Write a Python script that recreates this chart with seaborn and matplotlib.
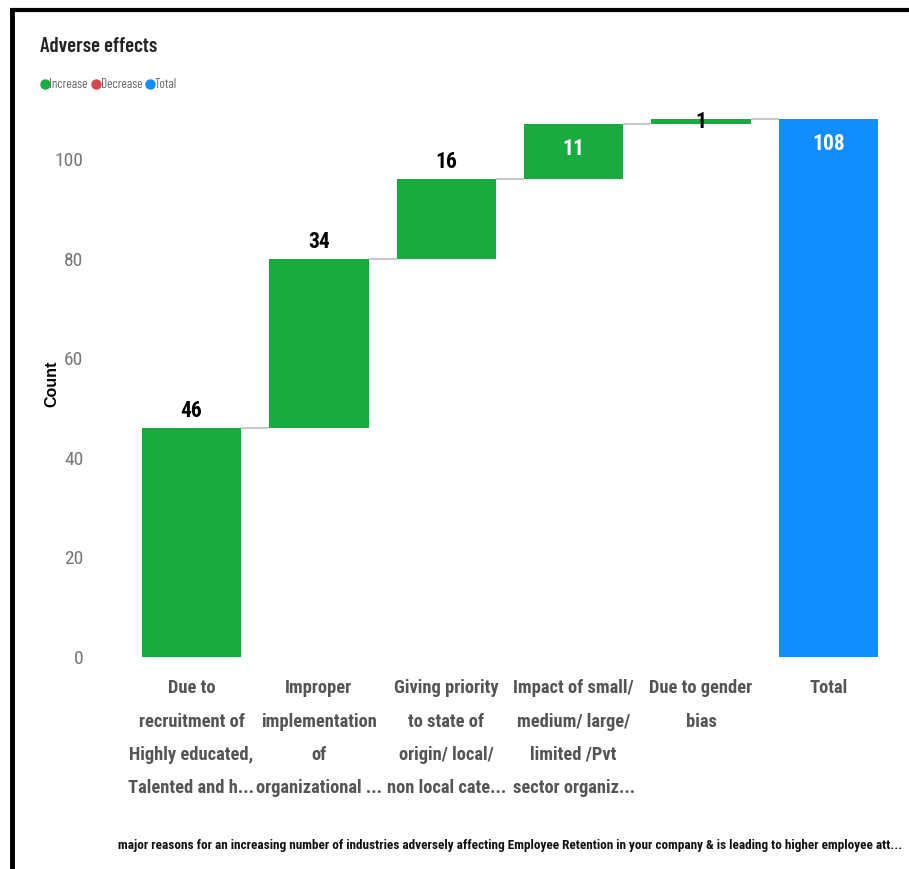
import numpy as np
import pandas as pd
import matplotlib
matplotlib.use("Agg")
import matplotlib.pyplot as plt
from matplotlib.lines import Line2D
import seaborn as sns

# ---- data ----
categories = [
    "Due to\nrecruitment of\nHighly educated,\nTalented and h...",
    "Improper\nimplementation\nof\norganizational ...",
    "Giving priority\nto state of\norigin/ local/\nnon local cate...",
    "Impact of small/\nmedium/ large/\nlimited /Pvt\nsector organiz...",
    "Due to gender\nbias",
    "Total",
]
changes = [46, 34, 16, 11, 1]
total = 108
kinds = ["Increase", "Increase", "Increase", "Increase", "Increase", "Total"]
y_ticks = [0, 20, 40, 60, 80, 100]
legend_names = ["Increase", "Decrease", "Total"]
caption = ("major reasons for an increasing number of industries adversely affecting "
           "Employee Retention in your company & is leading to higher employee att...")

# ---- waterfall geometry from the data ----
ends = np.cumsum(changes)
starts = np.concatenate([[0], ends[:-1]])
heights = list(changes) + [total]
bottoms = list(starts) + [0]
df = pd.DataFrame({"category": categories, "height": heights, "kind": kinds})

colors = {"Increase": "#1AAB40", "Decrease": "#D64550", "Total": "#118DFF"}

sns.set_theme(style="white")
COND = ["Roboto Condensed", "DejaVu Sans"]
DIN_NARROW = ["Barlow Condensed", "DejaVu Sans"]
plt.rcParams["font.family"] = COND

fig = plt.figure(figsize=(9.09, 8.69), dpi=100)
ax = fig.add_axes([0.1406, 0.2440, 0.8407, 0.6418])

bar_w = 0.78
sns.barplot(data=df, x="category", y="height", bottom=bottoms, width=bar_w,
            color=colors["Increase"], errorbar=None, ax=ax, linewidth=0,
            saturation=1)
for patch, kind in zip(ax.patches, kinds):
    patch.set_facecolor(colors[kind])
    patch.set_edgecolor("none")

# connector lines between consecutive bars
for i, lvl in enumerate(ends):
    ax.plot([i + bar_w / 2, i + 1 - bar_w / 2], [lvl, lvl],
            color="#C8C8C8", lw=1.5, zorder=0.5, solid_capstyle="butt")

# value labels
lab_kw = dict(ha="center", va="center", fontsize=15.5, fontweight="bold",
              textcoords="offset points")
for i, (h, b) in enumerate(zip(heights, bottoms)):
    top = b + h
    if kinds[i] == "Total" or h == 11:
        ax.annotate(str(h), (i, top), xytext=(0, -18), color="white", **lab_kw)
    elif h < 3:
        ax.annotate(str(h), (i, b + h / 2), xytext=(0, 0), color="black", **lab_kw)
    else:
        ax.annotate(str(h), (i, top), xytext=(0, 12), color="black", **lab_kw)

ax.set_xlim(-0.5, 5.5)
ax.set_ylim(0, 112)
ax.set_yticks(y_ticks)
ax.set_yticklabels([str(t) for t in y_ticks], fontsize=14, color="#777777")
ax.tick_params(axis="y", length=0, pad=32)
ax.tick_params(axis="x", length=0, pad=16)
ax.set_xticks(range(len(categories)))
ax.set_xticklabels(categories, fontsize=13.3, color="#555555", fontweight="bold",
                   linespacing=2.1, va="top")
for s in ax.spines.values():
    s.set_visible(False)
ax.set_xlabel("")
ax.set_ylabel("Count", fontsize=11.5, fontweight="bold", color="black",
              family=["Liberation Sans", "DejaVu Sans"])
ax.yaxis.set_label_coords(-0.089, 0.49)

# title and legend
fig.text(40 / 909, 1 - 47 / 869, "Adverse effects", fontsize=15,
         fontweight="semibold", color="#252423", ha="left", va="center",
         family=DIN_NARROW)
fig.canvas.draw()
lx = 45
for name in legend_names:
    fig.add_artist(Line2D([lx / 909], [1 - 84 / 869], marker="o", markersize=6.5,
                          color=colors[name], linestyle="none"))
    t = fig.text((lx + 4.5) / 909, 1 - 84 / 869, name, fontsize=9.5,
                 color="#666666", ha="left", va="center", family=DIN_NARROW)
    fig.canvas.draw()
    lx = t.get_window_extent().x1 + 8

# bottom axis caption, sized to span its row
cap = fig.text(902 / 909, 1 - 845 / 869, caption, fontsize=11, fontweight="bold",
               color="#111111", ha="right", va="center")
fig.canvas.draw()
w = cap.get_window_extent().width
cap.set_fontsize(11 * 780 / w)

# frame lines on the top and left edges
fig.add_artist(Line2D([12 / 909, 12 / 909], [0, 1 - 8 / 869], color="black", lw=3.5,
                      solid_capstyle="butt"))
fig.add_artist(Line2D([10 / 909, 1], [1 - 9.5 / 869, 1 - 9.5 / 869], color="black",
                      lw=3, solid_capstyle="butt"))

fig.savefig("out.png", dpi=100)
